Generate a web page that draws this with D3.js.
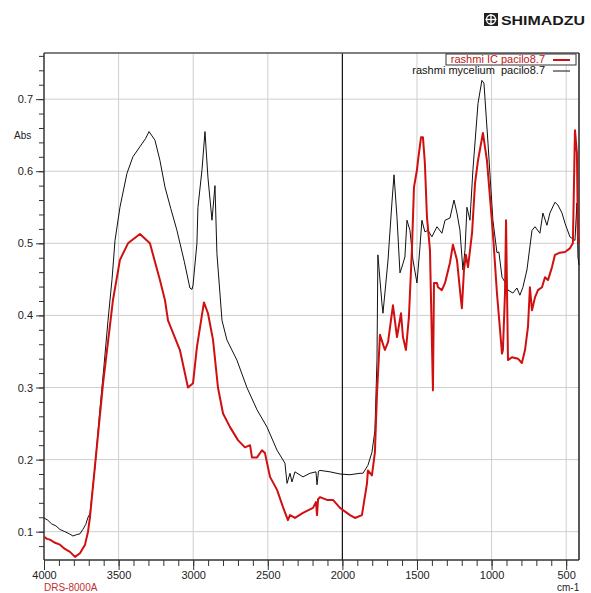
<!DOCTYPE html>
<html>
<head>
<meta charset="utf-8">
<script src="https://cdn.jsdelivr.net/npm/d3@7"></script>
<style>
  body { margin: 0; background: #fff; }
  svg { display: block; font-family: "Liberation Sans", Arial, sans-serif; }
</style>
</head>
<body>
<div id="chart"></div>
<script>
// spectra: [wavenumber cm-1, Abs]
const mycelium = [
  [4000,0.119],[3975,0.116],[3950,0.111],[3920,0.108],[3893,0.103],[3860,0.100],[3830,0.097],
  [3806,0.094],[3780,0.096],[3759,0.097],[3740,0.103],[3720,0.110],[3705,0.120],[3692,0.125],
  [3658,0.190],[3625,0.270],[3598,0.330],[3571,0.393],[3544,0.450],[3524,0.504],[3491,0.550],
  [3444,0.597],[3404,0.620],[3357,0.634],[3320,0.645],[3296,0.655],[3256,0.643],[3223,0.615],
  [3189,0.578],[3150,0.548],[3109,0.518],[3060,0.475],[3022,0.438],[3008,0.436],[3001,0.442],
  [2975,0.500],[2968,0.550],[2941,0.602],[2921,0.655],[2901,0.591],[2874,0.532],[2854,0.580],
  [2841,0.486],[2807,0.393],[2774,0.366],[2707,0.338],[2640,0.300],[2572,0.269],[2505,0.245],
  [2438,0.213],[2385,0.195],[2371,0.167],[2351,0.181],[2338,0.169],[2318,0.183],[2264,0.176],
  [2217,0.181],[2177,0.183],[2170,0.165],[2160,0.184],[2150,0.185],[2083,0.183],[2016,0.180],
  [1949,0.179],[1882,0.181],[1862,0.181],[1829,0.192],[1802,0.210],[1782,0.240],[1768,0.338],
  [1762,0.484],[1735,0.417],[1728,0.403],[1715,0.431],[1694,0.477],[1668,0.556],[1654,0.595],
  [1634,0.536],[1614,0.459],[1601,0.467],[1581,0.481],[1567,0.532],[1547,0.518],[1527,0.477],
  [1500,0.445],[1480,0.495],[1467,0.532],[1447,0.516],[1426,0.518],[1400,0.509],[1366,0.523],
  [1333,0.514],[1312,0.532],[1279,0.535],[1252,0.560],[1232,0.542],[1212,0.518],[1192,0.463],
  [1178,0.491],[1165,0.550],[1145,0.532],[1125,0.602],[1091,0.694],[1065,0.726],[1051,0.722],
  [1024,0.639],[991,0.532],[964,0.487],[951,0.488],[930,0.453],[910,0.446],[890,0.435],
  [857,0.431],[830,0.438],[810,0.428],[790,0.439],[763,0.463],[729,0.518],[709,0.523],
  [676,0.514],[656,0.542],[629,0.525],[609,0.542],[575,0.557],[555,0.553],[528,0.542],
  [508,0.528],[475,0.509],[441,0.504],[428,0.556],[421,0.481],[414,0.470]
];

const icPacilo = [
  [4000,0.093],[3980,0.090],[3960,0.089],[3930,0.085],[3893,0.082],[3860,0.076],[3826,0.072],
  [3792,0.065],[3759,0.070],[3725,0.082],[3705,0.100],[3692,0.120],[3651,0.207],[3604,0.306],
  [3538,0.421],[3491,0.477],[3437,0.500],[3357,0.513],[3290,0.500],[3223,0.449],[3189,0.421],
  [3169,0.393],[3089,0.352],[3035,0.300],[3001,0.306],[2975,0.356],[2928,0.418],[2901,0.403],
  [2867,0.366],[2834,0.300],[2800,0.264],[2753,0.245],[2700,0.227],[2653,0.217],[2619,0.220],
  [2606,0.203],[2572,0.203],[2539,0.213],[2519,0.209],[2485,0.176],[2438,0.158],[2398,0.134],
  [2365,0.116],[2351,0.123],[2318,0.119],[2264,0.126],[2197,0.133],[2177,0.141],[2170,0.123],
  [2163,0.145],[2150,0.148],[2103,0.144],[2063,0.144],[2016,0.133],[1949,0.123],[1916,0.119],
  [1869,0.123],[1835,0.167],[1829,0.185],[1802,0.178],[1782,0.210],[1768,0.292],[1748,0.373],
  [1715,0.352],[1694,0.363],[1661,0.414],[1634,0.370],[1607,0.403],[1594,0.370],[1574,0.352],
  [1554,0.398],[1534,0.491],[1520,0.578],[1500,0.602],[1493,0.615],[1473,0.647],[1460,0.647],
  [1447,0.611],[1433,0.536],[1413,0.491],[1393,0.296],[1386,0.445],[1366,0.445],[1359,0.439],
  [1333,0.435],[1312,0.445],[1279,0.473],[1259,0.498],[1232,0.477],[1205,0.421],[1199,0.410],
  [1185,0.463],[1172,0.484],[1158,0.467],[1131,0.514],[1111,0.583],[1091,0.615],[1058,0.653],
  [1031,0.615],[991,0.514],[964,0.431],[930,0.347],[924,0.352],[910,0.431],[903,0.532],
  [890,0.338],[863,0.342],[823,0.340],[797,0.334],[776,0.352],[756,0.384],[743,0.439],
  [729,0.407],[709,0.425],[689,0.435],[662,0.439],[642,0.453],[622,0.449],[595,0.467],
  [575,0.484],[542,0.487],[508,0.488],[475,0.493],[455,0.500],[441,0.657],[428,0.625],
  [421,0.509],[414,0.500]
];

const xTickVals = [4000, 3500, 3000, 2500, 2000, 1500, 1000, 500];
const yTickVals = [0.1, 0.2, 0.3, 0.4, 0.5, 0.6, 0.7];
const seriesNames = ["rashmi IC pacilo8.7", "rashmi mycelium  pacilo8.7"];
const seriesColors = ["#d01010", "#111111"];

const W = 591, H = 593;
const margin = { left: 44, right: 579, top: 53, bottom: 560 };

const svg = d3.select("#chart").append("svg")
  .attr("width", W)
  .attr("height", H);

const x = d3.scaleLinear().domain([4000, 414]).range([margin.left, margin.right]);
const y = d3.scaleLinear().domain([0.0607, 0.764]).range([margin.bottom, margin.top]);

// grid
svg.append("g")
  .selectAll("line")
  .data(xTickVals.filter(d => d !== 4000 && d !== 2000))
  .enter().append("line")
  .attr("x1", d => x(d)).attr("x2", d => x(d))
  .attr("y1", margin.top).attr("y2", margin.bottom)
  .attr("stroke", "#cfcfcf").attr("stroke-width", 1);

svg.append("g")
  .selectAll("line")
  .data(yTickVals)
  .enter().append("line")
  .attr("x1", margin.left).attr("x2", margin.right)
  .attr("y1", d => y(d)).attr("y2", d => y(d))
  .attr("stroke", "#cfcfcf").attr("stroke-width", 1);

// split line at 2000
svg.append("line")
  .attr("x1", x(2000)).attr("x2", x(2000))
  .attr("y1", margin.top).attr("y2", margin.bottom)
  .attr("stroke", "#111").attr("stroke-width", 1.2);

// frame top / right
svg.append("line")
  .attr("x1", margin.left).attr("x2", margin.right).attr("y1", margin.top).attr("y2", margin.top)
  .attr("stroke", "#555").attr("stroke-width", 1.5);
svg.append("line")
  .attr("x1", margin.right).attr("x2", margin.right).attr("y1", margin.top).attr("y2", margin.bottom)
  .attr("stroke", "#222").attr("stroke-width", 1.5);

// Axes
const yMinor = d3.range(0.08, 0.77, 0.02);
svg.append("g")
  .attr("transform", `translate(${margin.left},0)`)
  .call(d3.axisLeft(y).tickValues(yMinor).tickSize(5).tickFormat(""))
  .call(g => g.select(".domain").remove())
  .attr("color", "#333");

svg.append("g")
  .attr("transform", `translate(${margin.left},0)`)
  .call(d3.axisLeft(y).tickValues(yTickVals).tickSize(8).tickPadding(3).tickFormat(d3.format(".1f")))
  .attr("color", "#333")
  .call(g => g.select(".domain").attr("d", `M0,${margin.top}V${margin.bottom}`).attr("stroke-width", 1.5))
  .selectAll("text")
  .attr("fill", "#222")
  .style("font-size", "11px");

const xMinor = d3.range(4000, 413, -100);
svg.append("g")
  .attr("transform", `translate(0,${margin.bottom})`)
  .call(d3.axisBottom(x).tickValues(xMinor).tickSize(6).tickFormat(""))
  .call(g => g.select(".domain").remove())
  .attr("color", "#333");

svg.append("g")
  .attr("transform", `translate(0,${margin.bottom})`)
  .call(d3.axisBottom(x).tickValues(xTickVals).tickSize(10).tickPadding(1).tickFormat(d3.format("d")))
  .attr("color", "#333")
  .call(g => g.select(".domain").attr("d", `M${margin.left},0H${margin.right}`).attr("stroke-width", 1.5))
  .selectAll("text")
  .attr("fill", "#222")
  .style("font-size", "11px");

// Lines
const line = d3.line()
  .x(d => x(d[0]))
  .y(d => y(d[1]));

svg.append("path")
  .datum(mycelium)
  .attr("fill", "none")
  .attr("stroke", seriesColors[1])
  .attr("stroke-width", 1)
  .attr("stroke-linejoin", "round")
  .attr("d", line);

svg.append("path")
  .datum(icPacilo)
  .attr("fill", "none")
  .attr("stroke", seriesColors[0])
  .attr("stroke-width", 2)
  .attr("stroke-linejoin", "round")
  .attr("d", line);

// Legend
svg.append("rect")
  .attr("x", 446).attr("y", 54).attr("width", 130).attr("height", 11)
  .attr("fill", "#fff").attr("stroke", "#333").attr("stroke-width", 1);

seriesNames.forEach((name, i) => {
  const ly = 63 + i * 11;
  svg.append("text")
    .attr("x", 545).attr("y", ly)
    .attr("text-anchor", "end")
    .attr("fill", i === 0 ? "#c01818" : "#111")
    .style("font-size", "11px")
    .style("white-space", "pre")
    .text(name);
  svg.append("line")
    .attr("x1", 553).attr("x2", 570)
    .attr("y1", ly - 3).attr("y2", ly - 3)
    .attr("stroke", seriesColors[i])
    .attr("stroke-width", i === 0 ? 2 : 1);
});

// Labels
svg.append("text")
  .attr("x", 14).attr("y", y(0.65) + 4)
  .attr("fill", "#222")
  .style("font-size", "10px")
  .text("Abs");

svg.append("text")
  .attr("x", 557).attr("y", 590.5)
  .attr("fill", "#222")
  .style("font-size", "10px")
  .text("cm-1");

svg.append("text")
  .attr("x", 44).attr("y", 590.5)
  .attr("fill", "#c03030")
  .style("font-size", "10px")
  .text("DRS-8000A");

// SHIMADZU logo
const logo = svg.append("g").attr("transform", "translate(484,13)");
logo.append("rect").attr("x", 0).attr("y", 0).attr("width", 14).attr("height", 13)
  .attr("fill", "#222");
logo.append("circle").attr("cx", 7).attr("cy", 6.5).attr("r", 4.5)
  .attr("fill", "none").attr("stroke", "#fff").attr("stroke-width", 1.3);
logo.append("line").attr("x1", 1.5).attr("x2", 12.5).attr("y1", 6.5).attr("y2", 6.5)
  .attr("stroke", "#fff").attr("stroke-width", 1.3);
logo.append("line").attr("x1", 7).attr("x2", 7).attr("y1", 1).attr("y2", 12)
  .attr("stroke", "#fff").attr("stroke-width", 1.3);
logo.append("text")
  .attr("x", 17).attr("y", 12)
  .attr("fill", "#1a1a1a")
  .attr("textLength", 84)
  .attr("lengthAdjust", "spacingAndGlyphs")
  .style("font-size", "13px")
  .style("font-weight", "bold")
  .text("SHIMADZU");
</script>
</body>
</html>
